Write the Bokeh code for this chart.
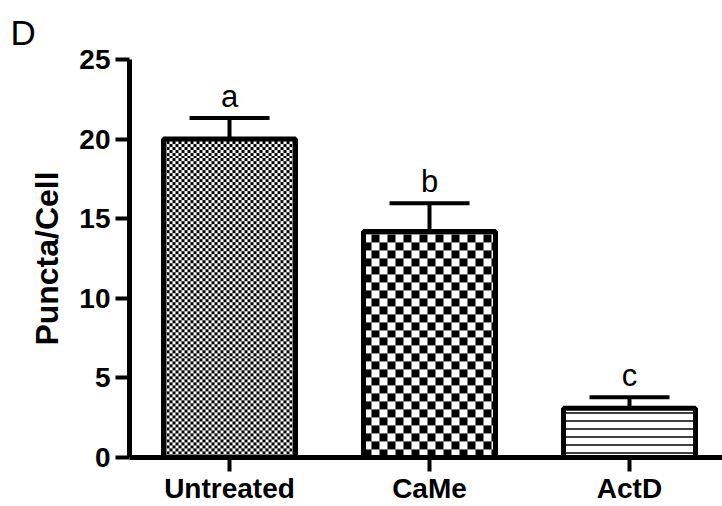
import numpy as np
from bokeh.plotting import figure
from bokeh.models import FixedTicker, Range1d
from bokeh.core.properties import value
from bokeh.embed import file_html
from bokeh.resources import INLINE

# ---- data ----
categories = ["Untreated", "CaMe", "ActD"]
means = [20.0, 14.2, 3.1]
errors = [1.33, 1.77, 0.68]
letters = ["a", "b", "c"]
y_ticks = [0, 5, 10, 15, 20, 25]
panel_label = "D"
y_title = "Puncta/Cell"

FONT = "Liberation Sans"
W, H = 722, 506
X0, X1 = -0.5, 2.465
Y0, Y1 = 0, 25
ML, MT, MB = 129, 59, 47
px_x = (W - ML) / (X1 - X0)
px_y = (H - MT - MB) / (Y1 - Y0)
BW = 0.66

p = figure(width=W, height=H, output_backend="svg", toolbar_location=None,
           x_range=Range1d(X0, X1), y_range=Range1d(Y0, Y1),
           min_border_left=ML, min_border_right=0, min_border_top=MT,
           min_border_bottom=MB, title=panel_label)
p.outline_line_color = None
p.grid.visible = False
p.background_fill_color = "white"
p.border_fill_color = "white"

p.title.text_font = FONT
p.title.text_font_size = "35px"
p.title.text_font_style = "normal"
p.title.text_color = "black"
p.title.align = "left"
p.title.offset = 10 - ML
p.title.standoff = 16

xs = list(range(len(categories)))

BLACK = np.uint32(0xFF000000)
WHITE = np.uint32(0xFFFFFFFF)


def checker(nx, ny, cell):
    j = np.arange(nx)[None, :] // cell
    i = np.arange(ny)[:, None] // cell
    return np.where((i + j) % 2 == 0, BLACK, WHITE).astype(np.uint32)


# checkered fills for the first two bars
cells = [3, 8]
for i, cell in enumerate(cells):
    nx = int(round(BW * px_x))
    ny = int(round(means[i] * px_y))
    p.image_rgba(image=[checker(nx, ny, cell)], x=xs[i] - BW / 2, y=0,
                 dw=BW, dh=means[i])

# bar outlines (first two transparent over the checker, third hatched)
p.vbar(x=xs[:2], top=means[:2], bottom=0, width=BW, fill_color=None,
       line_color="black", line_width=5)
p.vbar(x=xs[2:], top=means[2:], bottom=0, width=BW, fill_color="white",
       line_color="black", line_width=5, hatch_pattern="horizontal_line",
       hatch_scale=8, hatch_weight=1.5, hatch_color="black")

tops = [m + e for m, e in zip(means, errors)]
p.segment(x0=xs, y0=means, x1=xs, y1=tops, line_color="black", line_width=4)
p.segment(x0=[x - 0.2 for x in xs], y0=tops, x1=[x + 0.2 for x in xs], y1=tops,
          line_color="black", line_width=4)

p.text(x=xs, y=[t + 22 / px_y for t in tops], text=letters, text_align="center",
       text_baseline="alphabetic", text_font=value(FONT), text_font_size="31px",
       text_color="black")

# axes
p.yaxis.ticker = FixedTicker(ticks=y_ticks)
p.yaxis.axis_line_width = 5
p.yaxis.axis_line_color = "black"
p.yaxis.major_tick_line_width = 4
p.yaxis.major_tick_out = 14
p.yaxis.major_tick_in = 0
p.yaxis.minor_tick_line_color = None
p.yaxis.major_label_text_font = FONT
p.yaxis.major_label_text_font_size = "28px"
p.yaxis.major_label_text_font_style = "bold"
p.yaxis.major_label_text_color = "black"
p.yaxis.major_label_standoff = 5
p.yaxis.axis_label = y_title
p.yaxis.axis_label_text_font = FONT
p.yaxis.axis_label_text_font_size = "32px"
p.yaxis.axis_label_text_font_style = "bold"
p.yaxis.axis_label_text_color = "black"
p.yaxis.axis_label_standoff = 11

p.xaxis.ticker = FixedTicker(ticks=xs)
p.xaxis.major_label_overrides = {x: c for x, c in zip(xs, categories)}
p.xaxis.axis_line_width = 5
p.xaxis.axis_line_color = "black"
p.xaxis.major_tick_line_width = 4
p.xaxis.major_tick_out = 14
p.xaxis.major_tick_in = 0
p.xaxis.minor_tick_line_color = None
p.xaxis.major_label_text_font = FONT
p.xaxis.major_label_text_font_size = "28px"
p.xaxis.major_label_text_font_style = "bold"
p.xaxis.major_label_text_color = "black"
p.xaxis.major_label_standoff = 1

open("out.html", "w").write(file_html(p, INLINE))
